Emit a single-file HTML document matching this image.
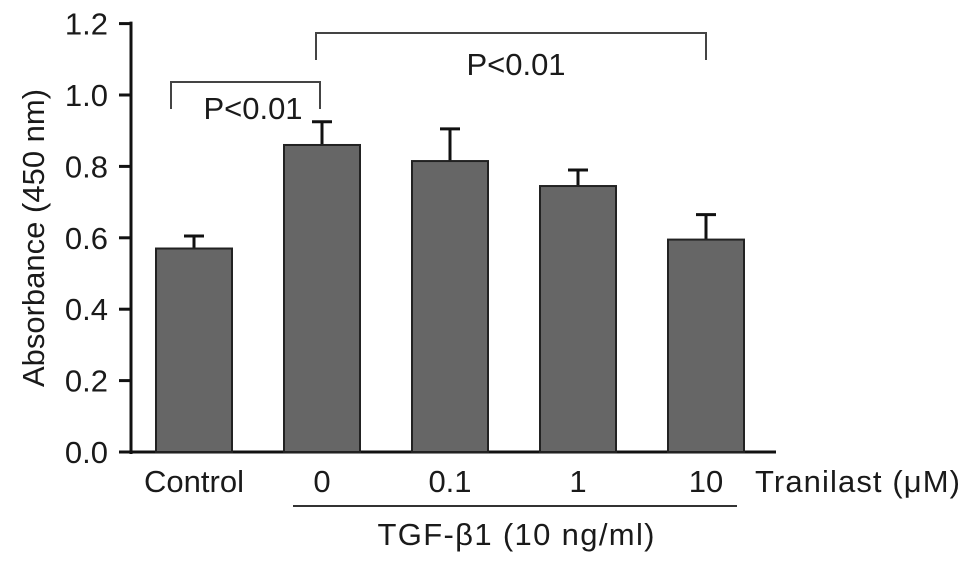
<!DOCTYPE html>
<html><head><meta charset="utf-8"><style>
body{margin:0;background:#fff}
text{font-family:"Liberation Sans",sans-serif;fill:#1a1a1a}
</style></head><body>
<svg id="chart" width="969" height="563" viewBox="0 0 969 563" xmlns="http://www.w3.org/2000/svg">
<g id="g"></g>
</svg>
<script>
const categories=["Control","0","0.1","1","10"];
const values=[0.57,0.86,0.815,0.745,0.595];
const errors=[0.035,0.065,0.09,0.045,0.07];
const yTicks=[0,0.2,0.4,0.6,0.8,1.0,1.2];
const tickLabels=["0.0","0.2","0.4","0.6","0.8","1.0","1.2"];
const NS="http://www.w3.org/2000/svg";
const g=document.getElementById('g');
const y0=452,pxPerUnit=357;
function y(v){return y0-v*pxPerUnit;}
const barLeft=[156,284,412,540,668],barW=76;
function x(i){return barLeft[i];}
function el(t,a,txt){const e=document.createElementNS(NS,t);for(const k in a)e.setAttribute(k,a[k]);if(txt!==undefined)e.textContent=txt;g.appendChild(e);return e;}
let e;
const FS=31;
e=el('line',{x1:131,y1:y(1.2)-2,x2:131,y2:y0+2,stroke:'#111','stroke-width':3});


e=el('line',{x1:119,y1:y0,x2:776,y2:y0,stroke:'#111','stroke-width':3});


yTicks.forEach((t,i)=>{
 e=el('line',{x1:119,y1:y(t),x2:131,y2:y(t),stroke:'#111','stroke-width':3});
 
 
 e=el('text',{x:108,y:y(t)+11,'text-anchor':'end','font-size':FS},tickLabels[i]);
 
 
});
e=el('text',{x:0,y:0,'font-size':FS,'text-anchor':'middle',transform:'translate(44,238) rotate(-90)'},'Absorbance (450 nm)');


values.forEach((v,i)=>{
 const cx=x(i)+barW/2;
 e=el('line',{x1:cx,y1:y(v),x2:cx,y2:y(v+errors[i]),stroke:'#111','stroke-width':3});
 
 
 e=el('line',{x1:cx-10,y1:y(v+errors[i]),x2:cx+10,y2:y(v+errors[i]),stroke:'#111','stroke-width':3});
 
 
 e=el('rect',{x:x(i),y:y(v),width:barW,height:y0-y(v),fill:'#666',stroke:'#222','stroke-width':2});
 
 
 e=el('text',{x:cx,y:492,'text-anchor':'middle','font-size':FS},categories[i]);
 
 
});
e=el('text',{x:755,y:492,'font-size':FS,textLength:205},'Tranilast (μM)');


e=el('line',{x1:293,y1:506,x2:737,y2:506,stroke:'#333','stroke-width':2});


e=el('text',{x:516,y:545,'text-anchor':'middle','font-size':FS,textLength:277},'TGF-β1 (10 ng/ml)');


e=el('polyline',{points:'171,109 171,82 320,82 320,109',fill:'none',stroke:'#444','stroke-width':2});


e=el('text',{x:253,y:119,'text-anchor':'middle','font-size':FS},'P<0.01');


e=el('polyline',{points:'316,60 316,33 706,33 706,60',fill:'none',stroke:'#444','stroke-width':2});


e=el('text',{x:516,y:75,'text-anchor':'middle','font-size':FS},'P<0.01');


</script>
</body></html>
